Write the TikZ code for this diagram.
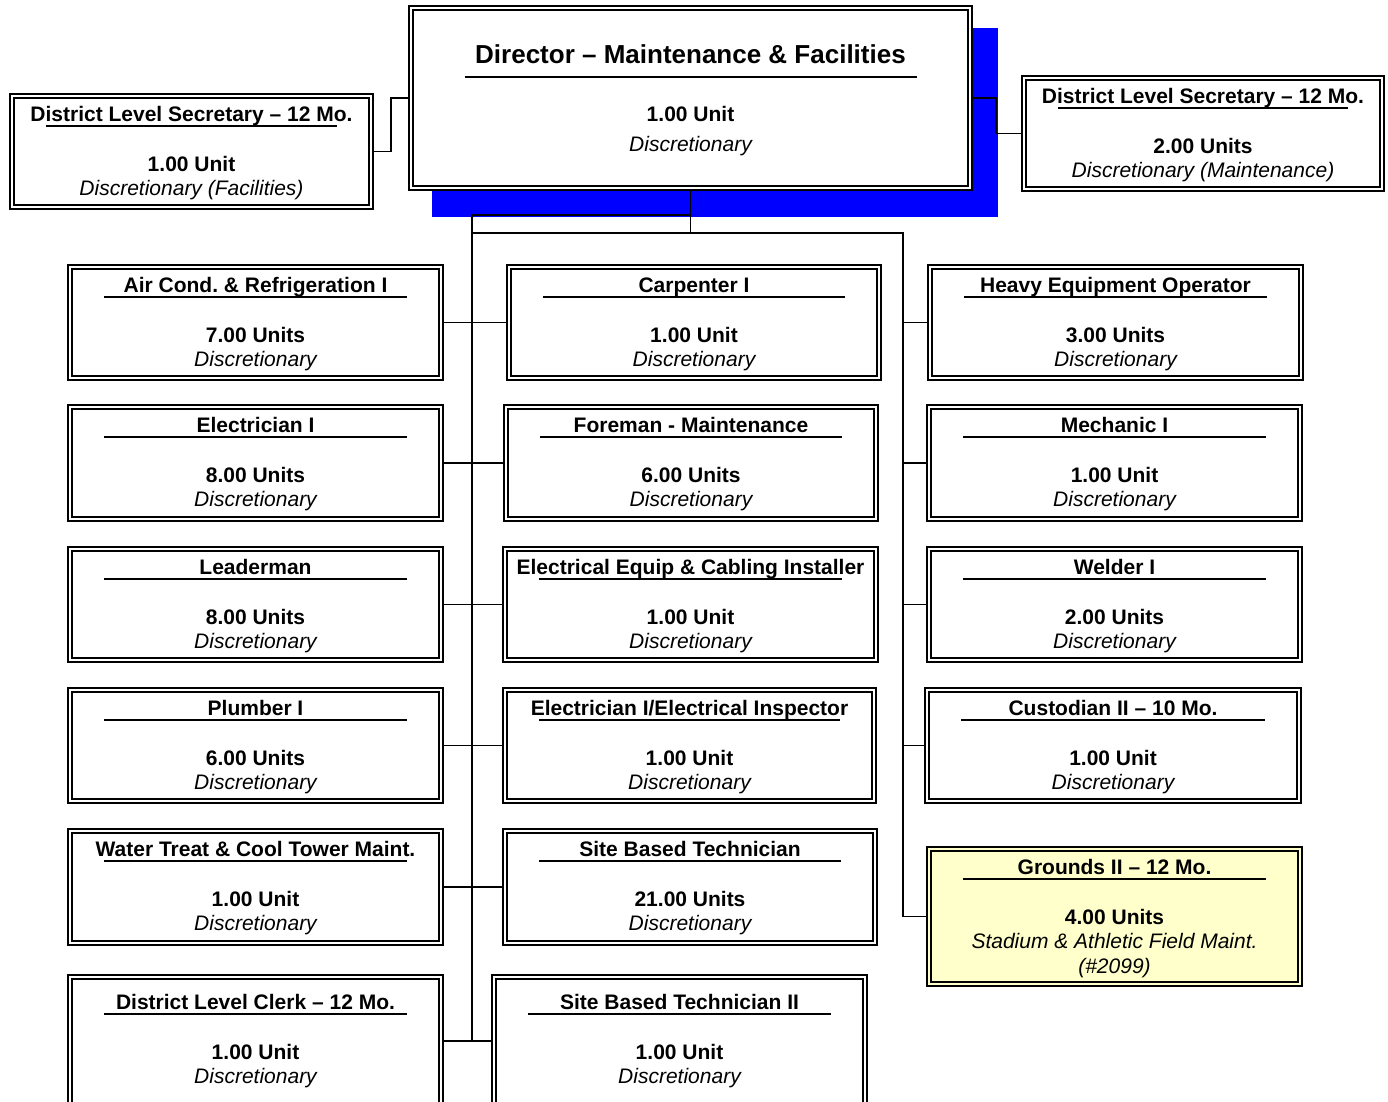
\documentclass[tikz,border=0pt]{standalone}
\usepackage{fontspec}
\setmainfont{Liberation Sans}
\usetikzlibrary{backgrounds}

\definecolor{groundsyellow}{HTML}{FFFFCC}

% one position box: [text shift] name, x1, y1, x2, y2, title, units, note
\newcommand\jobbox[9][0]{%
  \node[jobbox, minimum width={(#5-#3-5.9)*0.75pt},
    minimum height={(#6-#4-5.9)*0.75pt}] (#2) at ({(#3+#5)/2}, {(#4+#6)/2}) {};
  \node[jobtitle] (#2-t) at ({(#3+#5)/2}, {#4+28+#1}) {#7};
  \draw[jobrule] ({#3+37}, {#4+33+#1}) -- ({#5-37}, {#4+33+#1});
  \node[jobunits] (#2-u) at ({(#3+#5)/2}, {#4+78+#1}) {#8};
  \node[jobnote] (#2-n) at ({(#3+#5)/2}, {#4+102+#1}) {#9};
}

\begin{document}
\begin{tikzpicture}[x=0.75pt, y=-0.75pt,
    jobbox/.style={draw, line width=1.2pt, double=white, double distance=2pt,
      fill=white, inner sep=0pt},
    jobtitle/.style={anchor=base, inner sep=0pt,
      font=\fontsize{15.75}{18}\selectfont\bfseries},
    jobunits/.style={jobtitle},
    jobnote/.style={anchor=base, inner sep=0pt,
      font=\fontsize{15.75}{18}\selectfont\itshape},
    jobrule/.style={line width=1.1pt},
    wire/.style={line width=1.2pt}]
  \useasboundingbox (0, 0) rectangle (1388, 1101);

  % director
  \node[jobbox, minimum width={559.1*0.75pt}, minimum height={180.1*0.75pt}]
    (dir) at (690.5, 98) {};
  \node[jobtitle, font=\fontsize{19.5}{22}\selectfont\bfseries] (dir-t)
    at (690.5, 63) {Director – Maintenance \& Facilities};
  \draw[jobrule, line width=1.4pt] (465, 77) -- (917, 77);
  \node[jobunits] (dir-u) at (690.5, 121.5) {1.00 Unit};
  \node[jobnote] (dir-n) at (690.5, 151.5) {Discretionary};

  \jobbox{secl}{9}{93}{374}{210}{District Level Secretary – 12 Mo.}
    {1.00 Unit}{Discretionary (Facilities)}
  \jobbox{secr}{1021}{75}{1385}{192}{District Level Secretary – 12 Mo.}
    {2.00 Units}{Discretionary (Maintenance)}

  % left column
  \jobbox{air}{67}{264}{444}{381}{Air Cond.\ \& Refrigeration I}{7.00 Units}{Discretionary}
  \jobbox{elec}{67}{404}{444}{522}{Electrician I}{8.00 Units}{Discretionary}
  \jobbox{lead}{67}{546}{444}{663}{Leaderman}{8.00 Units}{Discretionary}
  \jobbox{plumb}{67}{687}{444}{804}{Plumber I}{6.00 Units}{Discretionary}
  \jobbox{water}{67}{828}{444}{946}{Water Treat \& Cool Tower Maint.}{1.00 Unit}{Discretionary}
  \jobbox[7]{clerk}{67}{974}{444}{1108}{District Level Clerk – 12 Mo.}{1.00 Unit}{Discretionary}

  % middle column
  \jobbox{carp}{506}{264}{882}{381}{Carpenter I}{1.00 Unit}{Discretionary}
  \jobbox{fore}{503}{404}{879}{522}{Foreman - Maintenance}{6.00 Units}{Discretionary}
  \jobbox{ecab}{502}{546}{879}{663}{Electrical Equip \& Cabling Installer}{1.00 Unit}{Discretionary}
  \jobbox{einsp}{502}{687}{877}{804}{Electrician I/Electrical Inspector}{1.00 Unit}{Discretionary}
  \jobbox{sbt}{502}{828}{878}{946}{Site Based Technician}{21.00 Units}{Discretionary}
  \jobbox[7]{sbtii}{491}{974}{868}{1108}{Site Based Technician II}{1.00 Unit}{Discretionary}

  % right column
  \jobbox{heavy}{927}{264}{1304}{381}{Heavy Equipment Operator}{3.00 Units}{Discretionary}
  \jobbox{mech}{926}{404}{1303}{522}{Mechanic I}{1.00 Unit}{Discretionary}
  \jobbox{weld}{926}{546}{1303}{663}{Welder I}{2.00 Units}{Discretionary}
  \jobbox{cust}{924}{687}{1302}{804}{Custodian II – 10 Mo.}{1.00 Unit}{Discretionary}
  \begin{scope}[jobbox/.append style={fill=groundsyellow, double=groundsyellow}]
    \jobbox{grounds}{926}{846}{1303}{987}{Grounds II – 12 Mo.}{4.00 Units}
      {Stadium \& Athletic Field Maint.}
  \end{scope}
  \node[jobnote] (grounds-m) at (1114.5, 973) {(\#2099)};

  \begin{scope}[on background layer]
    \fill[blue] (432, 28) rectangle (998, 217);

    \coordinate (busL) at (472, 215);
    \coordinate (busR) at (903, 233);

    \draw[wire] (dir.west) -- ++(-19, 0) |- (secl.east);
    \draw[wire] (dir.east) -- ++(25, 0) |- (secr.west);

    \draw[wire] (dir.south) -- (dir.south |- busR);
    \draw[wire] (dir.south |- busL) -- (busL) -- (busL |- clerk.east);
    \draw[wire] (busL |- busR) -- (busR) |- (grounds.west);

    \draw[wire] (air.east) -- (carp.west);
    \draw[wire] (elec.east) -- (fore.west);
    \draw[wire] (lead.east) -- (ecab.west);
    \draw[wire] (plumb.east) -- (einsp.west);
    \draw[wire] (water.east) -- (sbt.west);
    \draw[wire] (clerk.east) -- (sbtii.west);

    \draw[wire] (busR |- heavy.west) -- (heavy.west);
    \draw[wire] (busR |- mech.west) -- (mech.west);
    \draw[wire] (busR |- weld.west) -- (weld.west);
    \draw[wire] (busR |- cust.west) -- (cust.west);
  \end{scope}
\end{tikzpicture}
\end{document}
